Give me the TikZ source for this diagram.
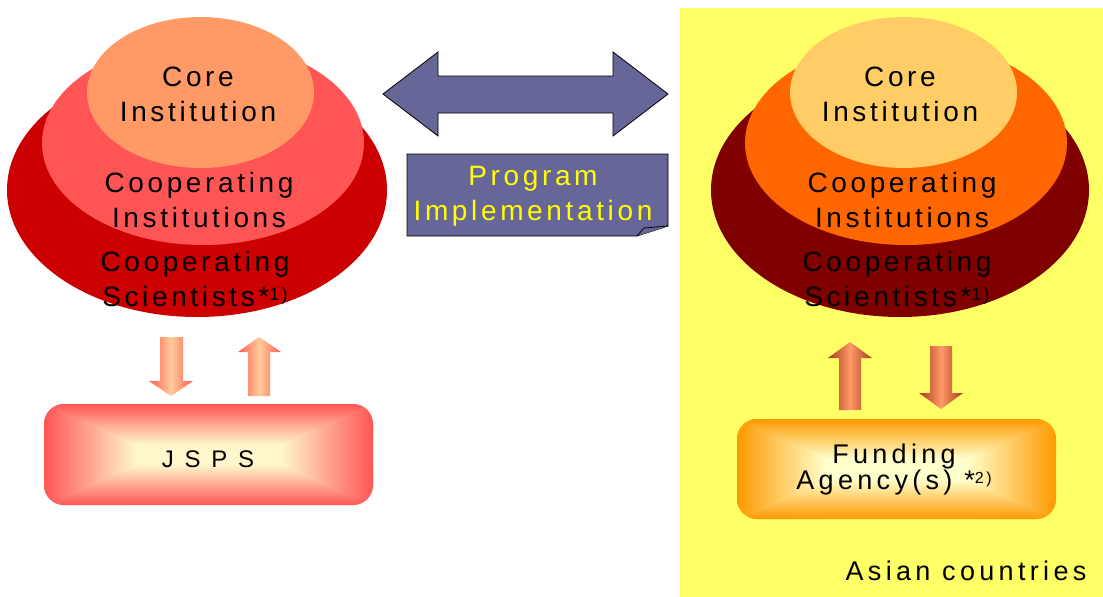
\documentclass[tikz,border=0pt]{standalone}
\usepackage{fontspec}
\setmainfont{Liberation Sans}
\newfontfamily\spaced{Liberation Sans}[LetterSpace=13]
\newfontfamily\wider{Liberation Sans}[LetterSpace=16]
\newfontfamily\widest{Liberation Sans}[LetterSpace=45]
\usetikzlibrary{shapes.geometric}
\definecolor{asiabg}{HTML}{FFFF66}
\definecolor{lOuter}{HTML}{CC0000}
\definecolor{lMid}{HTML}{FF5555}
\definecolor{lCore}{HTML}{FF9966}
\definecolor{rOuter}{HTML}{800000}
\definecolor{rMid}{HTML}{FF6600}
\definecolor{rCore}{HTML}{FFCC66}
\definecolor{purple}{HTML}{666699}
\definecolor{progtext}{HTML}{FFFF00}
\definecolor{jspsin}{HTML}{FFF6CC}
\definecolor{jspsout}{HTML}{FF5555}
\definecolor{fundin}{HTML}{FFFFCC}
\definecolor{fundout}{HTML}{FF9900}
\definecolor{larrEdge}{HTML}{FF5A50}
\definecolor{larrMid}{HTML}{FFCC99}
\definecolor{rarrEdge}{HTML}{A83A20}
\definecolor{rarrMid}{HTML}{FF9966}
\pgfdeclarehorizontalshading{jspsH}{100bp}{color(0bp)=(jspsout); color(25bp)=(jspsout); color(39bp)=(jspsin); color(61bp)=(jspsin); color(75bp)=(jspsout); color(100bp)=(jspsout)}
\pgfdeclareverticalshading{jspsV}{100bp}{color(0bp)=(jspsout); color(25bp)=(jspsout); color(45bp)=(jspsin); color(55bp)=(jspsin); color(75bp)=(jspsout); color(100bp)=(jspsout)}
\pgfdeclarehorizontalshading{fundH}{100bp}{color(0bp)=(fundout); color(25bp)=(fundout); color(39bp)=(fundin); color(61bp)=(fundin); color(75bp)=(fundout); color(100bp)=(fundout)}
\pgfdeclareverticalshading{fundV}{100bp}{color(0bp)=(fundout); color(25bp)=(fundout); color(45bp)=(fundin); color(55bp)=(fundin); color(75bp)=(fundout); color(100bp)=(fundout)}
\newcommand{\supA}[1]{*\raisebox{6pt}{\fontsize{18}{18}\selectfont #1}}
\newcommand{\supB}[1]{*\raisebox{6pt}{\fontsize{16}{16}\selectfont #1}}
\begin{document}
\begin{tikzpicture}[x=1pt,y=-1pt,
  blob/.style={ellipse, inner sep=0pt, draw=none},
  lbl/.style={font=\spaced\fontsize{28}{35}\selectfont, align=center, inner sep=0pt},
  purpleshape/.style={fill=purple, draw=black, line width=0.8pt, line join=miter},
  larrow/.style={left color=larrEdge, right color=larrEdge, middle color=larrMid},
  rarrow/.style={left color=rarrEdge, right color=rarrEdge, middle color=rarrMid},
  fundbox/.style={shade, rounded corners=20pt, inner sep=0pt, draw=none}]
\useasboundingbox (0,0) rectangle (1103,597);
% Asian countries background
\fill[asiabg] (680,8) rectangle (1103,597);

% left cluster
\node[blob, fill=lOuter, minimum width=380pt, minimum height=254pt] (lo) at (197,190) {};
\node[blob, fill=lMid, minimum width=322pt, minimum height=204pt] (lm) at (203,143) {};
\node[blob, fill=lCore, minimum width=227pt, minimum height=151pt] (lc) at (200.5,92.5) {};
\node[lbl] (lct) at (198,94.3) {Core\\Institution};
\node[lbl] (lmt) at (199,199.7) {Cooperating\\Institutions};
\node[lbl] (lot) at (195,279.2) {Cooperating\\Scientists\supA{1)}};

% right cluster
\node[blob, fill=rOuter, minimum width=378pt, minimum height=254pt] (ro) at (900,190) {};
\node[blob, fill=rMid, minimum width=322pt, minimum height=204pt] (rm) at (906,143) {};
\node[blob, fill=rCore, minimum width=227pt, minimum height=151pt] (rc) at (903.5,92.5) {};
\node[lbl] (rct) at (900,94.3) {Core\\Institution};
\node[lbl] (rmt) at (902,199.7) {Cooperating\\Institutions};
\node[lbl] (rot) at (897,279.2) {Cooperating\\Scientists\supA{1)}};

% double arrow
\draw[purpleshape] (383,94) -- (438,52) -- (438,76) -- (613,76) -- (613,52) -- (668,94)
  -- (613,136) -- (613,113) -- (438,113) -- (438,136) -- cycle;

% program implementation box
\draw[purpleshape] (407,154) -- (668,154) -- (668,226) -- (637,236) -- (407,236) -- cycle;
\draw[purpleshape] (637,236) -- (644,228) -- (668,226);
\node[lbl, text=progtext] (prog) at (533,196) {Program\\Implementation};

% left arrows
\shade[larrow] (160,337) -- (183,337) -- (183,381) -- (193,381) -- (171,396) -- (149,381) -- (160,381) -- cycle;
\shade[larrow] (259,337) -- (281,352) -- (270,352) -- (270,396) -- (248,396) -- (248,352) -- (238,352) -- cycle;

% JSPS box
\begin{scope}[transparency group]
\node[fundbox, shading=jspsH, minimum width=329pt, minimum height=101pt] (jsps) at (208.5,454.5) {};
\node[fundbox, shading=jspsV, blend mode=darken, minimum width=329pt, minimum height=101pt] (jspsv) at (208.5,454.5) {};
\end{scope}
\node[font=\widest\fontsize{24}{28}\selectfont, inner sep=0pt, anchor=base] (jspst) at (208,467) {JSPS};

% right arrows
\shade[rarrow] (850,342) -- (872,358) -- (861,358) -- (861,410) -- (839,410) -- (839,358) -- (828,358) -- cycle;
\shade[rarrow] (930,346) -- (952,346) -- (952,393) -- (963,393) -- (941,409) -- (919,393) -- (930,393) -- cycle;

% funding box
\begin{scope}[transparency group]
\node[fundbox, shading=fundH, minimum width=319pt, minimum height=100pt] (fund) at (896.5,469) {};
\node[fundbox, shading=fundV, blend mode=darken, minimum width=319pt, minimum height=100pt] (fundv) at (896.5,469) {};
\end{scope}
\node[font=\wider\fontsize{27}{26}\selectfont, align=center, inner sep=0pt] (fundt) at (894,469.2) {Funding\\Agency(s) \supB{2)}};

\node[font=\wider\fontsize{27}{30}\selectfont, inner sep=0pt, anchor=base] (asia) at (966,580) {Asian countries};
\end{tikzpicture}
\end{document}
